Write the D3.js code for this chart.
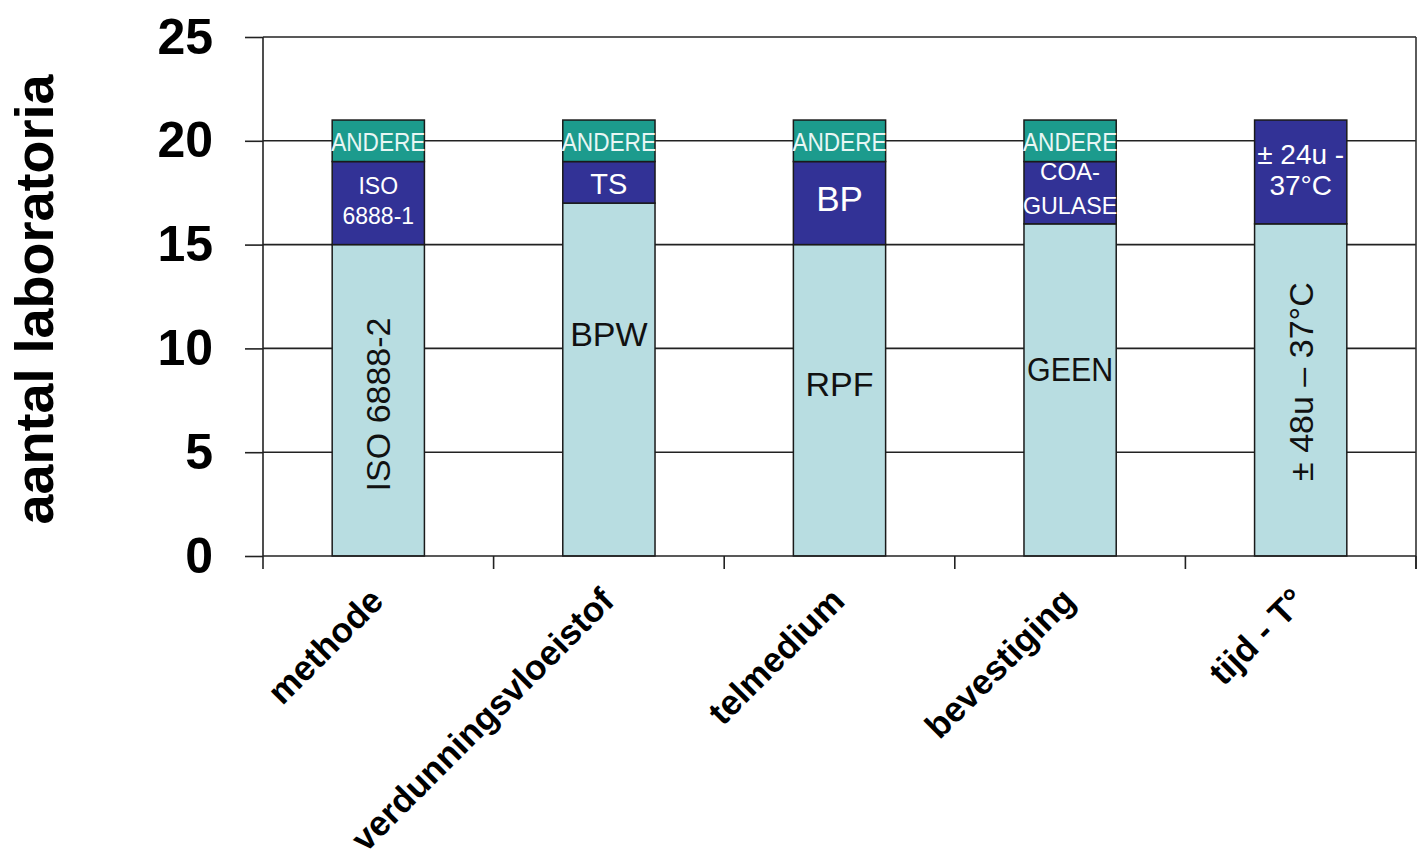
<!DOCTYPE html>
<html>
<head>
<meta charset="utf-8">
<script src="https://cdn.jsdelivr.net/npm/d3@7/dist/d3.min.js"></script>
<style>
  html, body { margin: 0; padding: 0; background: #fff; }
  svg { display: block; font-family: "Liberation Sans", Arial, sans-serif; }
</style>
</head>
<body>
<svg id="chart" width="1421" height="865"></svg>
<script>
// Categories along the x axis
const categories = ["methode", "verdunningsvloeistof", "telmedium", "bevestiging", "tijd - T°"];

// Stacked series (number of labs), bottom to top
const mainValues   = [15, 17, 15, 16, 16];
const secondValues = [4, 2, 4, 3, 5];
const otherValues  = [2, 2, 2, 2, 0];

// Text written inside each segment
const mainLabels   = ["ISO 6888-2", "BPW", "RPF", "GEEN", "± 48u – 37°C"];
const secondLabels = [["ISO", "6888-1"], ["TS"], ["BP"], ["COA-", "GULASE"], ["± 24u -", "37°C"]];
const otherLabel   = "ANDERE";

// Y-axis ticks
const yTicks = [0, 5, 10, 15, 20, 25];

// Label placement and styling (kept apart from the data)
const mainLabelAt      = [7.3, 10.7, 8.3, 9.0, 8.4];   // level (in labs) of each bottom label
const mainRotated      = [true, false, false, false, true];
const secondFontSize   = [23, 29, 35, 24, 28];
const secondLineHeight = [30, 0, 0, 34, 31];
const secondShift      = [-2, 2, -5, -4, -2];

const colors = { main: "#b8dde1", second: "#323296", other: "#1c9b8d" };

const svg = d3.select("#chart");
const plotLeft = 263, plotRight = 1416, plotTop = 37, plotBottom = 556;

const x = d3.scaleBand().domain(categories).range([plotLeft, plotRight])
  .paddingInner(0.6).paddingOuter(0.3);
const y = d3.scaleLinear().domain([0, 25]).range([plotBottom, plotTop]);

const rows = categories.map((c, i) => ({
  cat: c,
  main: mainValues[i], second: secondValues[i], other: otherValues[i]
}));
const stack = d3.stack().keys(["main", "second", "other"])(rows);

// Horizontal gridlines
svg.append("g").selectAll("line").data(yTicks.filter(t => t > 0)).join("line")
  .attr("x1", plotLeft).attr("x2", plotRight)
  .attr("y1", d => y(d)).attr("y2", d => y(d))
  .attr("stroke", "#222").attr("stroke-width", 1.6);

// Right border of the plot area
svg.append("line")
  .attr("x1", plotRight).attr("x2", plotRight).attr("y1", y(25)).attr("y2", plotBottom + 13)
  .attr("stroke", "#333").attr("stroke-width", 1.6);

// Stacked bars
const layers = svg.append("g").selectAll("g").data(stack).join("g")
  .attr("fill", d => colors[d.key]);
layers.selectAll("rect").data(d => d.filter(s => s[1] - s[0] > 0)).join("rect")
  .attr("x", d => x(d.data.cat))
  .attr("width", x.bandwidth())
  .attr("y", d => y(d[1]))
  .attr("height", d => y(d[0]) - y(d[1]))
  .attr("stroke", "#1a1a1a").attr("stroke-width", 1.5);

// Y axis
const yAxis = svg.append("g").attr("transform", `translate(${plotLeft},0)`)
  .call(d3.axisLeft(y).tickValues(yTicks).tickSize(18).tickPadding(32).tickFormat(d3.format("d")));
yAxis.select(".domain").attr("stroke", "#222").attr("stroke-width", 1.6)
  .attr("d", `M0,${plotTop}V${plotBottom}`);
yAxis.selectAll(".tick line").attr("stroke", "#222").attr("stroke-width", 1.6);
yAxis.selectAll(".tick text")
  .attr("font-size", 50).attr("font-weight", "bold").attr("fill", "#000")
  .attr("font-family", "'Liberation Sans', Arial, sans-serif");

// X axis with ticks on category boundaries
const xAxisG = svg.append("g").attr("transform", `translate(0,${plotBottom})`);
xAxisG.append("line").attr("x1", plotLeft).attr("x2", plotRight)
  .attr("stroke", "#222").attr("stroke-width", 1.6);
const boundaries = categories.map(c => x(c) - (x.step() - x.bandwidth()) / 2);
boundaries.push(plotRight);
xAxisG.selectAll("line.tk").data(boundaries).join("line").attr("class", "tk")
  .attr("x1", d => d).attr("x2", d => d).attr("y1", 0).attr("y2", 13)
  .attr("stroke", "#222").attr("stroke-width", 1.6);

// Rotated category labels
svg.append("g").selectAll("text").data(categories).join("text")
  .attr("transform", d => `translate(${x(d) + x.bandwidth() / 2 + 7},${plotBottom + 47}) rotate(-45)`)
  .attr("text-anchor", "end")
  .attr("font-size", 35).attr("font-weight", "bold").attr("fill", "#000")
  .text(d => d);

// Y axis title
svg.append("text")
  .attr("transform", `translate(53,${(plotTop + plotBottom) / 2 + 3}) rotate(-90)`)
  .attr("text-anchor", "middle")
  .attr("font-size", 54).attr("font-weight", "bold").attr("fill", "#000")
  .text("aantal laboratoria");

const cx = c => x(c) + x.bandwidth() / 2;

// Labels in the bottom segments
categories.forEach((c, i) => {
  const t = svg.append("text")
    .attr("text-anchor", "middle").attr("dominant-baseline", "central")
    .attr("font-size", 34).attr("fill", "#111")
    .text(mainLabels[i]);
  if (mainRotated[i]) {
    t.attr("transform", `translate(${cx(c)},${y(mainLabelAt[i])}) rotate(-90)`);
  } else {
    t.attr("x", cx(c)).attr("y", y(mainLabelAt[i]));
    const w = t.node().getComputedTextLength();
    if (w > x.bandwidth() - 4) t.attr("textLength", x.bandwidth() - 6).attr("lengthAdjust", "spacingAndGlyphs");
  }
});

// Labels in the middle segments
categories.forEach((c, i) => {
  const lines = secondLabels[i];
  const fs = secondFontSize[i];
  const lh = secondLineHeight[i];
  const mid = y(mainValues[i] + secondValues[i] / 2) + secondShift[i];
  lines.forEach((ln, k) => {
    const t = svg.append("text")
      .attr("x", cx(c))
      .attr("y", mid + (k - (lines.length - 1) / 2) * lh)
      .attr("text-anchor", "middle").attr("dominant-baseline", "central")
      .attr("font-size", fs).attr("fill", "#fff")
      .text(ln);
    const w = t.node().getComputedTextLength();
    if (w > x.bandwidth() + 2) t.attr("textLength", x.bandwidth() + 2).attr("lengthAdjust", "spacingAndGlyphs");
  });
});

// Labels in the top segments
categories.forEach((c, i) => {
  if (otherValues[i] <= 0) return;
  const base = mainValues[i] + secondValues[i];
  const t = svg.append("text")
    .attr("x", cx(c))
    .attr("y", y(base + otherValues[i] / 2) + 1)
    .attr("text-anchor", "middle").attr("dominant-baseline", "central")
    .attr("font-size", 25).attr("fill", "#e8f6f4")
    .text(otherLabel);
  const w = t.node().getComputedTextLength();
  if (w > x.bandwidth() + 2) t.attr("textLength", x.bandwidth() + 2).attr("lengthAdjust", "spacingAndGlyphs");
});
</script>
</body>
</html>
